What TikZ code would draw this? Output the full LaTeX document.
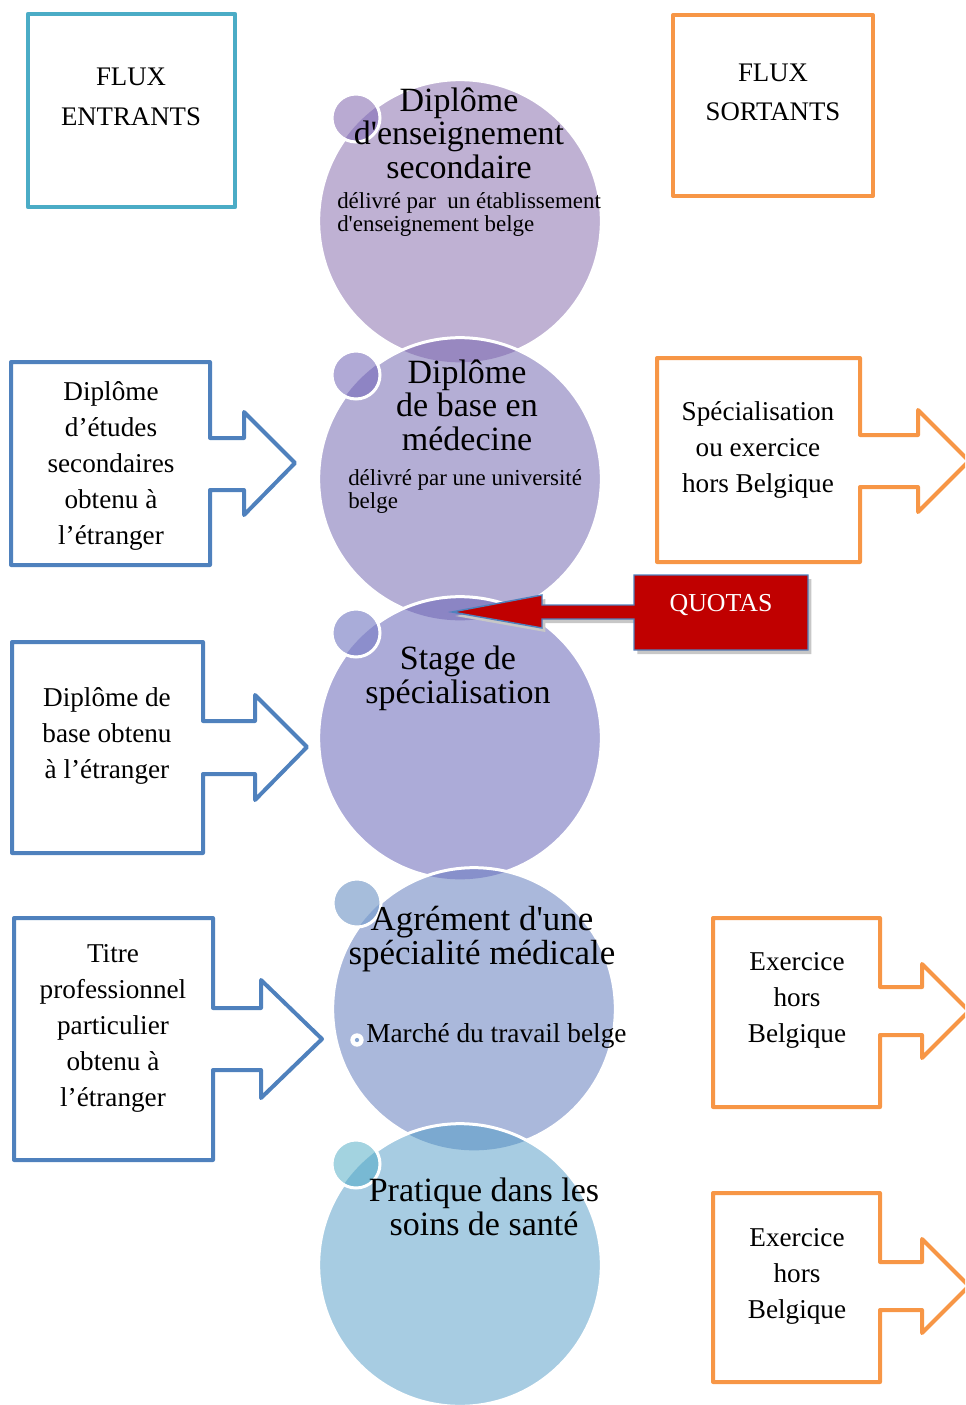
\documentclass[tikz,border=0pt]{standalone}
\usepackage{fontspec}
\setmainfont{Liberation Serif}
\definecolor{cA}{HTML}{BFB1D3}
\definecolor{cB}{HTML}{B4AED5}
\definecolor{cC}{HTML}{ACABD8}
\definecolor{cD}{HTML}{AAB8DB}
\definecolor{cE}{HTML}{A7CCE2}
\definecolor{lAB}{HTML}{9888C0}
\definecolor{lBC}{HTML}{8B85C4}
\definecolor{lCD}{HTML}{8790CB}
\definecolor{lDE}{HTML}{7BA9D0}
\definecolor{sA}{HTML}{B9AAD2}
\definecolor{sAd}{HTML}{9A88C2}
\definecolor{sB}{HTML}{B0A9D6}
\definecolor{sBd}{HTML}{8E84C4}
\definecolor{sC}{HTML}{A9ACD9}
\definecolor{sCd}{HTML}{8C8ECC}
\definecolor{sD}{HTML}{A6BDDB}
\definecolor{sDd}{HTML}{88A6D2}
\definecolor{sE}{HTML}{A3D3E0}
\definecolor{sEd}{HTML}{78B9D3}
\definecolor{inblue}{HTML}{4F81BD}
\definecolor{outorange}{HTML}{F79646}
\definecolor{tealc}{HTML}{4BACC6}
\definecolor{quotared}{HTML}{C00000}
\tikzset{
  whiteline/.style={draw=white, line width=2.25pt},
  inarrow/.style={draw=inblue, line width=3pt, line join=round, fill=white},
  outarrow/.style={draw=outorange, line width=3pt, line join=round, fill=white},
  boxtext/.style={align=center, inner sep=0pt, font=\fontsize{20.4}{27}\selectfont},
  titletext/.style={align=center, inner sep=0pt, font=\fontsize{25.5}{25.1}\selectfont},
  subtext/.style={align=left, inner sep=0pt, anchor=west, font=\fontsize{17.2}{17.25}\selectfont},
  headtext/.style={align=center, inner sep=0pt, font=\fontsize{20.1}{30}\selectfont},
}
\begin{document}
\begin{tikzpicture}[x=0.75pt,y=-0.75pt]
\useasboundingbox (0,0) rectangle (965,1405);
\clip (0,0) rectangle (965,1405);
\def\R{106pt}
\def\r{18pt}

% ---------- circle 1
\coordinate (C1) at (460,221);
\coordinate (S1) at (356,118);
\fill[cA] (C1) circle[radius=\R];
\draw[whiteline] (C1) circle[radius=\R];
\fill[sA] (S1) circle[radius=\r];
\begin{scope}\clip (C1) circle[radius=\R]; \fill[sAd] (S1) circle[radius=\r];\end{scope}
\draw[whiteline] (S1) circle[radius=\r];

% ---------- circle 2
\coordinate (C2) at (460,479);
\coordinate (S2) at (356,375);
\fill[cB] (C2) circle[radius=\R];
\begin{scope}\clip (C1) circle[radius=\R]; \fill[lAB] (C2) circle[radius=\R];\end{scope}
\draw[whiteline] (C2) circle[radius=\R];
\fill[sB] (S2) circle[radius=\r];
\begin{scope}\clip (C2) circle[radius=\R]; \fill[sBd] (S2) circle[radius=\r];\end{scope}
\draw[whiteline] (S2) circle[radius=\r];

% ---------- circle 3
\coordinate (C3) at (460,738);
\coordinate (S3) at (356,633);
\fill[cC] (C3) circle[radius=\R];
\begin{scope}\clip (C2) circle[radius=\R]; \fill[lBC] (C3) circle[radius=\R];\end{scope}
\draw[whiteline] (C3) circle[radius=\R];
\fill[sC] (S3) circle[radius=\r];
\begin{scope}\clip (C3) circle[radius=\R]; \fill[sCd] (S3) circle[radius=\r];\end{scope}
\draw[whiteline] (S3) circle[radius=\r];

% ---------- circle 4
\coordinate (C4) at (474,1009);
\coordinate (S4) at (357,903);
\fill[cD] (C4) circle[radius=\R];
\begin{scope}\clip (C3) circle[radius=\R]; \fill[lCD] (C4) circle[radius=\R];\end{scope}
\draw[whiteline] (C4) circle[radius=\R];
\fill[sD] (S4) circle[radius=\r];
\begin{scope}\clip (C4) circle[radius=\R]; \fill[sDd] (S4) circle[radius=\r];\end{scope}
\draw[whiteline] (S4) circle[radius=\r];

% ---------- circle 5
\coordinate (C5) at (460,1265);
\coordinate (S5) at (356,1164);
\fill[cE] (C5) circle[radius=\R];
\begin{scope}\clip (C4) circle[radius=\R]; \fill[lDE] (C5) circle[radius=\R];\end{scope}
\draw[whiteline] (C5) circle[radius=\R];
\fill[sE] (S5) circle[radius=\r];
\begin{scope}\clip (C5) circle[radius=\R]; \fill[sEd] (S5) circle[radius=\r];\end{scope}
\draw[whiteline] (S5) circle[radius=\r];

% bullet
\coordinate (B4) at (357,1040);
\fill[white] (B4) circle[radius=5pt];
\fill[sDd] (B4) circle[radius=1.6pt];

% ---------- header boxes
\draw[draw=tealc, line width=3.5pt, line join=round] (28,14) rectangle (235,207);
\node[headtext] (hin) at (131,97) {FLUX\\ENTRANTS};
\draw[draw=outorange, line width=3pt, line join=round] (673,15) rectangle (873,196);
\node[headtext, font=\fontsize{20.1}{29.3}\selectfont] (hout) at (773,92) {FLUX\\SORTANTS};

% ---------- incoming arrows
\draw[inarrow] (11,362)--(210,362)--(210,438)--(244,438)--(244,412)--(295,463)--(244,515)--(244,490)--(210,490)--(210,565)--(11,565)--cycle;
\node[boxtext] (in1) at (111,466) {Diplôme\\d’études\\secondaires\\obtenu à\\l’étranger};
\draw[inarrow] (12,642)--(203,642)--(203,721)--(255,721)--(255,695)--(307,747)--(255,800)--(255,774)--(203,774)--(203,853)--(12,853)--cycle;
\node[boxtext] (in2) at (107,736) {Diplôme de\\base obtenu\\à l’étranger};
\draw[inarrow] (14,918)--(213,918)--(213,1008)--(261,1008)--(261,980)--(322,1039)--(261,1098)--(261,1070)--(213,1070)--(213,1160)--(14,1160)--cycle;
\node[boxtext] (in3) at (113,1028) {Titre\\professionnel\\particulier\\obtenu à\\l’étranger};

% ---------- outgoing arrows
\draw[outarrow] (657,358)--(860,358)--(860,435)--(918,435)--(918,410)--(969,461)--(918,512)--(918,487)--(860,487)--(860,562)--(657,562)--cycle;
\node[boxtext] (out1) at (758,450) {Spécialisation\\ou exercice\\hors Belgique};
\draw[outarrow] (713,918)--(880,918)--(880,987)--(922,987)--(922,964)--(969,1011)--(922,1058)--(922,1035)--(880,1035)--(880,1107)--(713,1107)--cycle;
\node[boxtext] (out2) at (797,1000) {Exercice\\hors\\Belgique};
\draw[outarrow] (713,1193)--(880,1193)--(880,1262)--(922,1262)--(922,1239)--(969,1286)--(922,1333)--(922,1310)--(880,1310)--(880,1382)--(713,1382)--cycle;
\node[boxtext] (out3) at (797,1276) {Exercice\\hors\\Belgique};

% ---------- QUOTAS
\fill[black!22] ([xshift=2.5pt,yshift=-3pt]634,575)--([xshift=2.5pt,yshift=-3pt]808,575)--([xshift=2.5pt,yshift=-3pt]808,650)--([xshift=2.5pt,yshift=-3pt]634,650)--([xshift=2.5pt,yshift=-3pt]634,619)--([xshift=2.5pt,yshift=-3pt]542,619)--([xshift=2.5pt,yshift=-3pt]542,628)--([xshift=2.5pt,yshift=-3pt]452,612)--([xshift=2.5pt,yshift=-3pt]542,595)--([xshift=2.5pt,yshift=-3pt]542,605)--([xshift=2.5pt,yshift=-3pt]634,605)--cycle;
\draw[fill=quotared, draw=inblue, line width=1.1pt] (634,575)--(808,575)--(808,650)--(634,650)--(634,619)--(542,619)--(542,628)--(452,612)--(542,595)--(542,605)--(634,605)--cycle;
\node[inner sep=0pt, text=white, font=\fontsize{19.4}{23}\selectfont] (quotas) at (721,605) {QUOTAS};

% ---------- circle texts
\node[titletext] (t1) at (459,133) {Diplôme\\d\textquotesingle enseignement\\secondaire};
\node[subtext] (u1) at (337,215) {délivré par\ \ un établissement\\d\textquotesingle enseignement belge};
\node[titletext] (t2) at (467,405) {Diplôme\\de base en\\médecine};
\node[subtext] (u2) at (348,491) {délivré par une université\\belge};
\node[titletext] (t3) at (458,678.5) {Stage de\\spécialisation};
\node[titletext, font=\fontsize{26.2}{25.5}\selectfont] (t4) at (482,939) {Agrément d\textquotesingle une\\spécialité médicale};
\node[subtext, font=\fontsize{20.5}{24}\selectfont] (u4) at (366,1036) {Marché du travail belge};
\node[titletext] (t5) at (484,1207) {Pratique dans les\\soins de santé};
\end{tikzpicture}
\end{document}
